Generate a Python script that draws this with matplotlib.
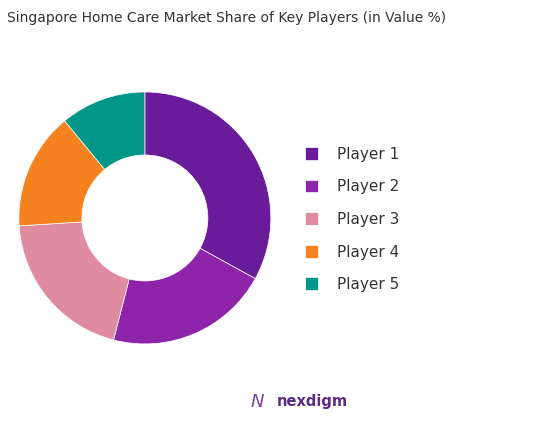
import matplotlib.pyplot as plt

labels = ["Player 1", "Player 2", "Player 3", "Player 4", "Player 5"]
shares = [33, 21, 20, 15, 11]
colors = ["#6a1b9a", "#8e24aa", "#e08ca0", "#f5821f", "#009688"]

fig = plt.figure(figsize=(5.54, 4.22), dpi=100)
ax = fig.add_axes([0.034, 0.185, 0.455, 0.597])
wedges, _ = ax.pie(shares, colors=colors, startangle=90, counterclock=False,
                   wedgeprops=dict(width=0.5, edgecolor="white", linewidth=0.5))
ax.set_xlim(-1, 1)
ax.set_ylim(-1, 1)
ax.set_aspect("equal")

fig.text(0.012, 0.975, "Singapore Home Care Market Share of Key Players (in Value %)",
         fontsize=10, color="#333333", va="top")

leg = fig.legend(wedges, labels, loc="center left", bbox_to_anchor=(0.525, 0.48),
                 frameon=False, fontsize=11, handlelength=0.9, handleheight=0.9,
                 labelspacing=1.15, handletextpad=1.2)
for t in leg.get_texts():
    t.set_color("#333333")

fig.text(0.5, 0.048, "nexdigm", fontsize=10.5, color="#5b2c83", ha="left",
         va="center", fontweight="bold")
fig.text(0.465, 0.048, "N", fontsize=13, color="#7b3fa0", ha="center", va="center",
         style="italic")

fig.savefig("out.png", dpi=100)
